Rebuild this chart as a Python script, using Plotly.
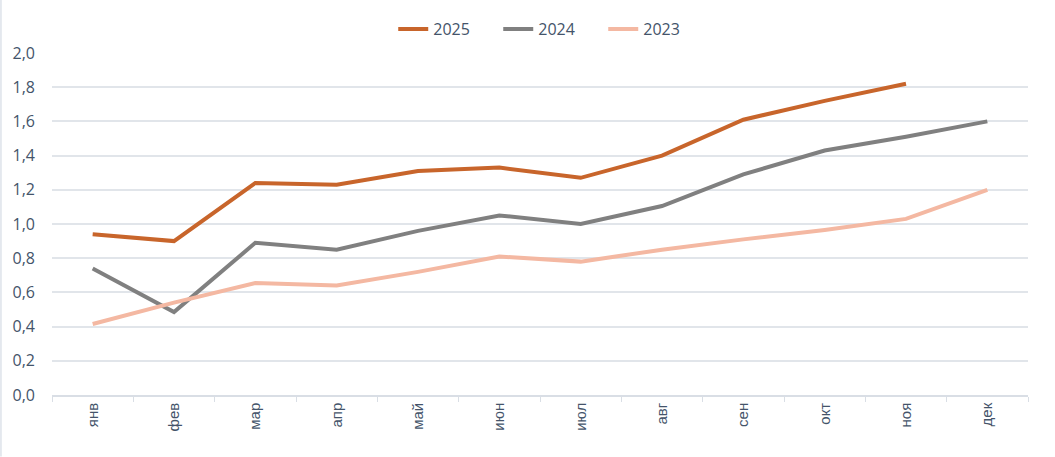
import plotly.graph_objects as go

months = ["янв", "фев", "мар", "апр", "май", "июн", "июл", "авг", "сен", "окт", "ноя", "дек"]
y2025 = [0.94, 0.90, 1.24, 1.23, 1.31, 1.33, 1.27, 1.40, 1.61, 1.72, 1.82, None]
y2024 = [0.74, 0.485, 0.89, 0.85, 0.96, 1.05, 1.00, 1.105, 1.29, 1.43, 1.51, 1.60]
y2023 = [0.415, 0.54, 0.655, 0.64, 0.72, 0.81, 0.78, 0.85, 0.91, 0.965, 1.03, 1.20]
yticks = [0.0, 0.2, 0.4, 0.6, 0.8, 1.0, 1.2, 1.4, 1.6, 1.8, 2.0]

fig = go.Figure()
for name, vals, col in [("2025", y2025, "#C8652B"), ("2024", y2024, "#808080"), ("2023", y2023, "#F4B8A2")]:
    fig.add_trace(go.Scatter(x=months, y=vals, name=name, mode="lines",
                             line=dict(color=col, width=4)))

# faint chart border on the left edge
fig.add_shape(type="line", xref="paper", yref="paper", x0=-0.0523, x1=-0.0523,
              y0=-0.18, y1=1.16, line=dict(color="#DDE3EA", width=1.5))

fig.update_layout(
    width=1055, height=457,
    margin=dict(l=52, r=27, t=53, b=62, autoexpand=False),
    paper_bgcolor="white", plot_bgcolor="white",
    separators=", ",
    font=dict(family="Liberation Sans, Arial", color="#44546A"),
    showlegend=True,
    legend=dict(orientation="h", x=0.511, xanchor="center", y=1.07, yanchor="middle",
                font=dict(size=16, family="Open Sans, Liberation Sans", color="#44546A"),
                traceorder="normal", entrywidth=60, entrywidthmode="pixels",
                tracegroupgap=0),
    xaxis=dict(type="category", tickangle=-90, tickfont=dict(size=15, color="#44546A"),
               showgrid=False, showline=True, linecolor="#D9DEE5", linewidth=1.5,
               ticks="outside", tickson="boundaries", ticklen=5, tickcolor="#D9DEE5",
               range=[-0.5, 11.5]),
    yaxis=dict(range=[0, 2.0], tickvals=yticks, tickformat=".1f",
               tickfont=dict(size=16, family="Open Sans, Liberation Sans", color="#44546A"),
               showgrid=True, gridcolor="#E1E5EA", gridwidth=1.5, zeroline=False,
               showline=False, ticks="", ticklabelstandoff=16),
)
fig.write_html("out.html", config={"displayModeBar": False},
               post_script="document.body.style.margin='0px';document.body.style.overflow='hidden';")
